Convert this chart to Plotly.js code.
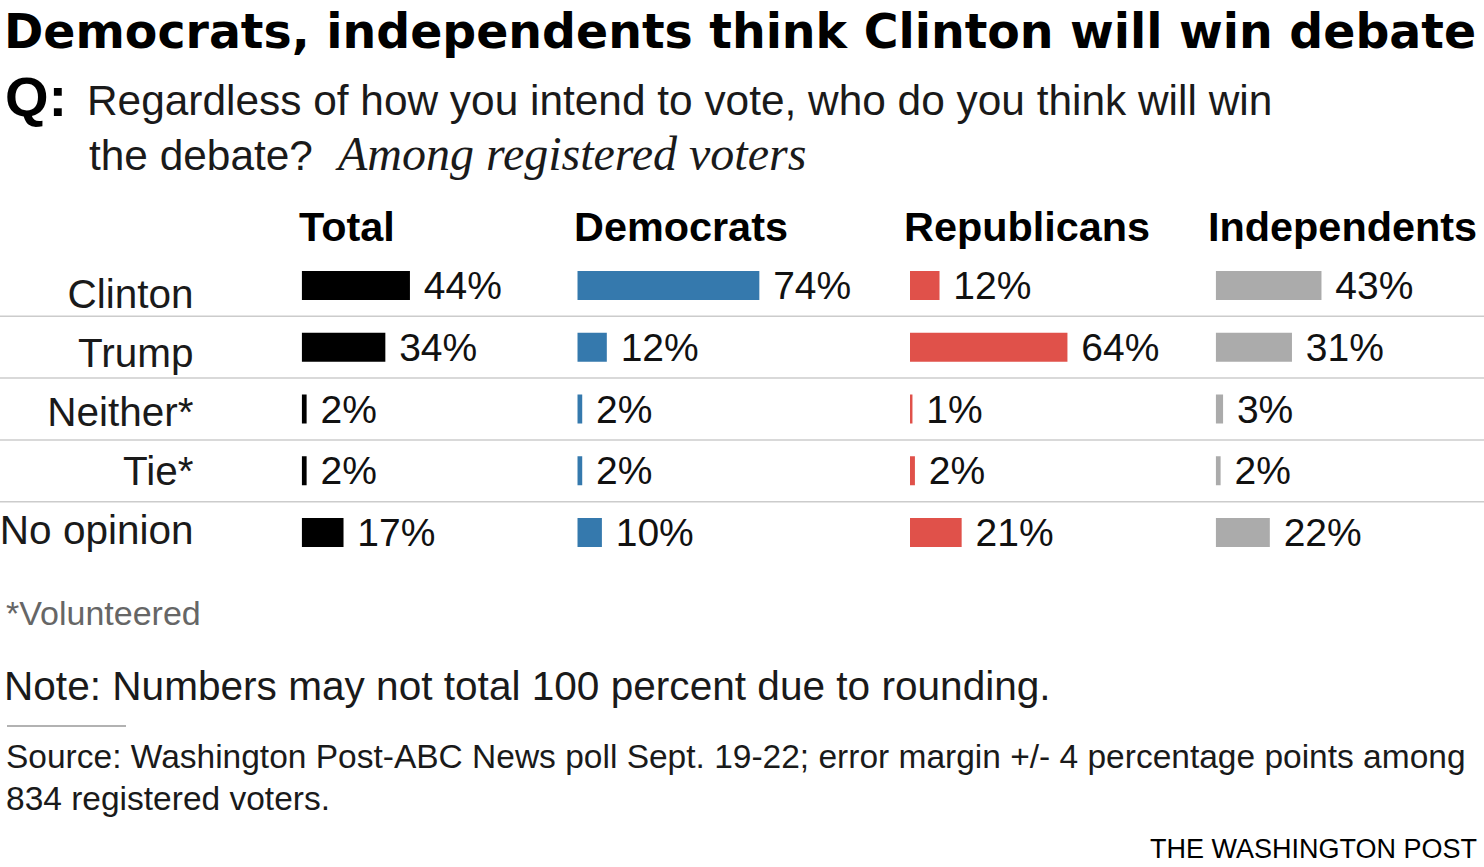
<!DOCTYPE html>
<html>
<head>
<meta charset="utf-8">
<script src="https://cdn.plot.ly/plotly-3.0.1.min.js"></script>
<style>
  html, body { margin: 0; padding: 0; background: #ffffff; }
  #chart { width: 1484px; height: 867px; }
</style>
</head>
<body>
<div id="chart"></div>
<script>
// ---- Data ----
const categories = ['Clinton', 'Trump', 'Neither*', 'Tie*', 'No opinion'];
const groups = ['Total', 'Democrats', 'Republicans', 'Independents'];
const totalValues = [44, 34, 2, 2, 17];
const democratValues = [74, 12, 2, 2, 10];
const republicanValues = [12, 64, 1, 2, 21];
const independentValues = [43, 31, 3, 2, 22];

const titleText = 'Democrats, independents think Clinton will win debate';
const questionLine1 = 'Regardless of how you intend to vote, who do you think will win';
const questionLine2 = 'the debate?';
const questionQualifier = 'Among registered voters';
const footnoteText = '*Volunteered';
const noteText = 'Note: Numbers may not total 100 percent due to rounding.';
const sourceLine1 = 'Source: Washington Post-ABC News poll Sept. 19-22; error margin +/- 4 percentage points among';
const sourceLine2 = '834 registered voters.';
const creditText = 'THE WASHINGTON POST';

// ---- Layout constants ----
const W = 1484, H = 867;
const seriesValues = [totalValues, democratValues, republicanValues, independentValues];
const seriesColors = ['#000000', '#3579ad', '#e0514a', '#ababab'];
const colStartPx = [301.7, 577.3, 910, 1215.7];
const pxPerUnit = 2.46;
const axisMax = 100;
const headerXpx = [297, 572, 902, 1206];

const SANS = '"Liberation Sans", Arial, sans-serif';
const SERIF = '"Liberation Serif", "Times New Roman", serif';
const TITLE_FONT = '"DejaVu Sans", sans-serif';
const TEXT = '#1a1a1a';

const px2x = p => p / W;
const px2y = p => 1 - p / H;

const axName = i => (i === 0 ? '' : String(i + 1));

const traces = seriesValues.map((vals, i) => ({
  type: 'bar',
  orientation: 'h',
  y: categories,
  x: vals,
  xaxis: 'x' + axName(i),
  yaxis: 'y',
  width: 0.47,
  marker: { color: seriesColors[i], line: { width: 0 } },
  texttemplate: '\u00a0%{x}%',
  textposition: 'outside',
  constraintext: 'none',
  cliponaxis: false,
  textfont: { family: SANS, size: 39, color: '#111111' },
  hoverinfo: 'skip'
}));

// row labels drawn as a text trace on its own category axis
traces.push({
  type: 'scatter',
  mode: 'text',
  x: categories.map(() => 1),
  y: categories,
  text: categories,
  textposition: 'middle left',
  xaxis: 'x5',
  yaxis: 'y2',
  cliponaxis: false,
  textfont: { family: SANS, size: 40.5, color: TEXT },
  hoverinfo: 'skip'
});

const layout = {
  width: W,
  height: H,
  margin: { l: 0, r: 0, t: 0, b: 0 },
  paper_bgcolor: '#ffffff',
  plot_bgcolor: 'rgba(0,0,0,0)',
  showlegend: false,
  yaxis: {
    type: 'category', categoryarray: categories, categoryorder: 'array',
    range: [categories.length - 0.5, -0.5],
    domain: [px2y(563.4), px2y(254.6)],
    visible: false, fixedrange: true, anchor: 'x'
  },
  yaxis2: {
    type: 'category', categoryarray: categories, categoryorder: 'array',
    range: [categories.length - 0.5, -0.5],
    domain: [px2y(563.35), px2y(268.85)],
    visible: false, fixedrange: true, anchor: 'x5'
  },
  xaxis5: {
    domain: [0, px2x(193.5)], range: [0, 1],
    visible: false, fixedrange: true, anchor: 'y2'
  },
  shapes: [],
  annotations: []
};

colStartPx.forEach((s, i) => {
  layout['xaxis' + axName(i)] = {
    domain: [px2x(s), px2x(s + pxPerUnit * axisMax)],
    range: [0, axisMax],
    visible: false, fixedrange: true, anchor: 'y'
  };
});

// separators between rows
for (let k = 0; k < categories.length - 1; k++) {
  layout.shapes.push({
    type: 'line', xref: 'paper', yref: 'y',
    x0: 0, x1: 1, y0: k + 0.5, y1: k + 0.5,
    line: { color: '#cccccc', width: 1.5 }
  });
}
// short rule above source
layout.shapes.push({
  type: 'line', xref: 'paper', yref: 'paper',
  x0: px2x(7), x1: px2x(126), y0: px2y(726), y1: px2y(726),
  line: { color: '#999999', width: 1.5 }
});

function addText(text, xpx, ypx, font, xanchor) {
  layout.annotations.push({
    text: text, xref: 'paper', yref: 'paper',
    x: px2x(xpx), y: px2y(ypx),
    xanchor: xanchor || 'left', yanchor: 'middle',
    showarrow: false, font: font
  });
}

addText('<b>' + titleText + '</b>', 1.5, 32, { family: TITLE_FONT, size: 47.4, color: '#000000' });
addText('<b>Q:</b>', 3, 97, { family: SANS, size: 56, color: '#000000' });
addText(questionLine1, 84.6, 100, { family: SANS, size: 42.4, color: TEXT });
addText(questionLine2, 87, 155, { family: SANS, size: 42.4, color: TEXT });
addText('<i>' + questionQualifier + '</i>', 333, 154, { family: SERIF, size: 48, color: TEXT });

groups.forEach((g, i) => {
  addText('<b>' + g + '</b>', headerXpx[i], 227, { family: SANS, size: 41.4, color: '#000000' });
});

addText(footnoteText, 4, 613, { family: SANS, size: 34, color: '#666666' });
addText(noteText, 2, 686, { family: SANS, size: 40.6, color: TEXT });
addText(sourceLine1, 3.5, 756, { family: SANS, size: 33.5, color: TEXT });
addText(sourceLine2, 4, 798, { family: SANS, size: 33.5, color: TEXT });
addText(creditText, 1479, 849, { family: SANS, size: 27, color: '#000000' }, 'right');

Plotly.newPlot('chart', traces, layout, { staticPlot: true, displayModeBar: false });
</script>
</body>
</html>
